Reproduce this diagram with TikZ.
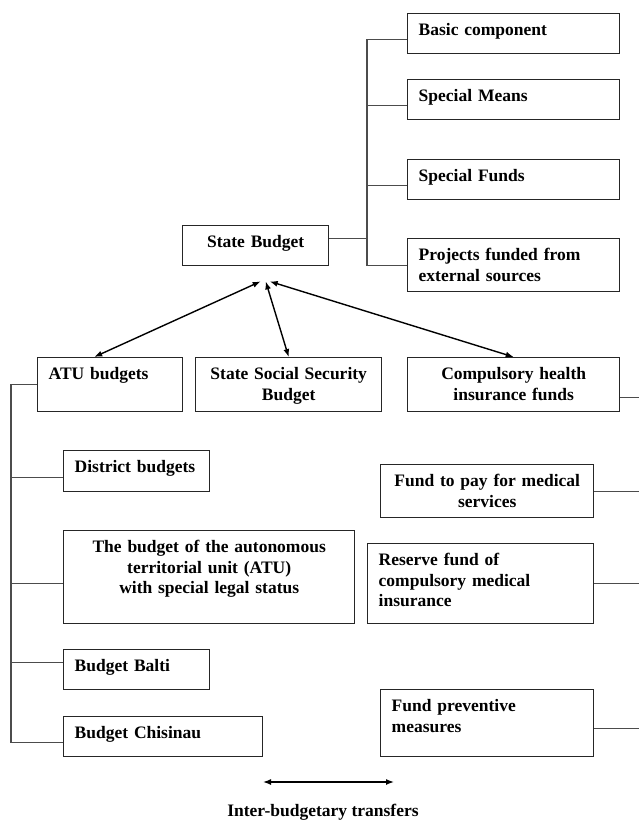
\documentclass[tikz,border=0pt]{standalone}
\usepackage{fontspec}
\setmainfont{Liberation Serif}
\usetikzlibrary{arrows.meta}
\begin{document}
\begin{tikzpicture}[x=1pt,y=-1pt,
	box/.style={draw=black!85, line width=1.4pt, anchor=north west, inner xsep=11pt, inner ysep=0pt, text height=22pt, align=left, font=\fontsize{17.5}{20.5}\selectfont\bfseries},
	midbox/.style={box, align=center},
	link/.style={draw=black!70, line width=1.4pt},
	flow/.style={{Latex[length=8pt,width=6pt]}-{Latex[length=8pt,width=6pt]}, line width=1.4pt}]
		\useasboundingbox (0,0) rectangle (638,822);
		\node[box, text width=190pt, text depth=18pt] (basic) at (407,13) {Basic component};
		\node[box, text width=190pt, text depth=18pt] (means) at (407,79) {Special Means};
		\node[box, text width=190pt, text depth=18pt] (funds) at (407,159) {Special Funds};
		\node[box, text width=190pt, text depth=31pt] (projects) at (407,238) {Projects funded from\\external sources};
		\node[midbox, text width=124pt, text depth=18pt] (state) at (182,225) {State Budget};
		
		\node[box, text width=123pt, text depth=32pt] (atu) at (37,357) {ATU budgets};
		\node[midbox, text width=164pt, text depth=32pt] (sss) at (195,357) {State Social Security\\Budget};
		\node[midbox, text width=190pt, text depth=32pt] (chi) at (407,357) {Compulsory health\\insurance funds};
		
		\node[box, text width=124pt, text depth=19pt] (district) at (63,450) {District budgets};
		\node[midbox, text width=269pt, text depth=71pt] (gagauz) at (63,530) {The budget of the autonomous\\territorial unit (ATU)\\with special legal status};
		\node[box, text width=124pt, text depth=18pt] (balti) at (63,649) {Budget Balti};
		\node[box, text width=177pt, text depth=18pt] (chisinau) at (63,716) {Budget Chisinau};
		
		\node[midbox, text width=191pt, text depth=31pt] (medpay) at (380,464) {Fund to pay for medical\\services};
		\node[box, text width=204pt, text depth=58pt] (reserve) at (367,543) {Reserve fund of\\compulsory medical\\insurance};
		\node[box, text width=191pt, text depth=45pt] (prevent) at (380,689) {Fund preventive\\measures};
		
		\draw[link] ([yshift=7pt]state.east) -- ++(39,0);
		\draw[link] ([yshift=-6pt]basic.west) -- ++(-40,0) |- (projects.west);
		\draw[link] ([yshift=-6pt]means.west) -- ++(-40,0);
		\draw[link] ([yshift=-6pt]funds.west) -- ++(-40,0);
		
		\draw[link] (atu.west) -- ++(-26,0) |- ([yshift=-6pt]chisinau.west);
		\draw[link] ([yshift=-6pt]district.west) -- ++(-52,0);
		\draw[link] ([yshift=-6pt]gagauz.west) -- ++(-52,0);
		\draw[link] ([yshift=7pt]balti.west) -- ++(-52,0);
		
		\draw[link] ([yshift=-13pt]chi.east) -- ++(19,0);
		\draw[link] (medpay.east) -- ++(45,0);
		\draw[link] (reserve.east) -- ++(45,0);
		\draw[link] ([yshift=-5pt]prevent.east) -- ++(45,0);
		
		\coordinate (hub) at ([yshift=-15pt]state.south);
		\draw[flow] ([xshift=5pt]hub) -- ([xshift=-16pt]atu.north);
		\draw[flow] ([xshift=10pt]hub) -- (sss.north);
		\draw[flow] ([xshift=14pt]hub) -- (chi.north);
		
		\node[font=\fontsize{17.5}{20.5}\selectfont\bfseries, anchor=base] (legend) at (323,816) {Inter-budgetary transfers};
		\coordinate (la) at (263,782);
		\coordinate (lb) at (394,782);
		\draw[flow] (la) -- (lb);
\end{tikzpicture}
\end{document}
